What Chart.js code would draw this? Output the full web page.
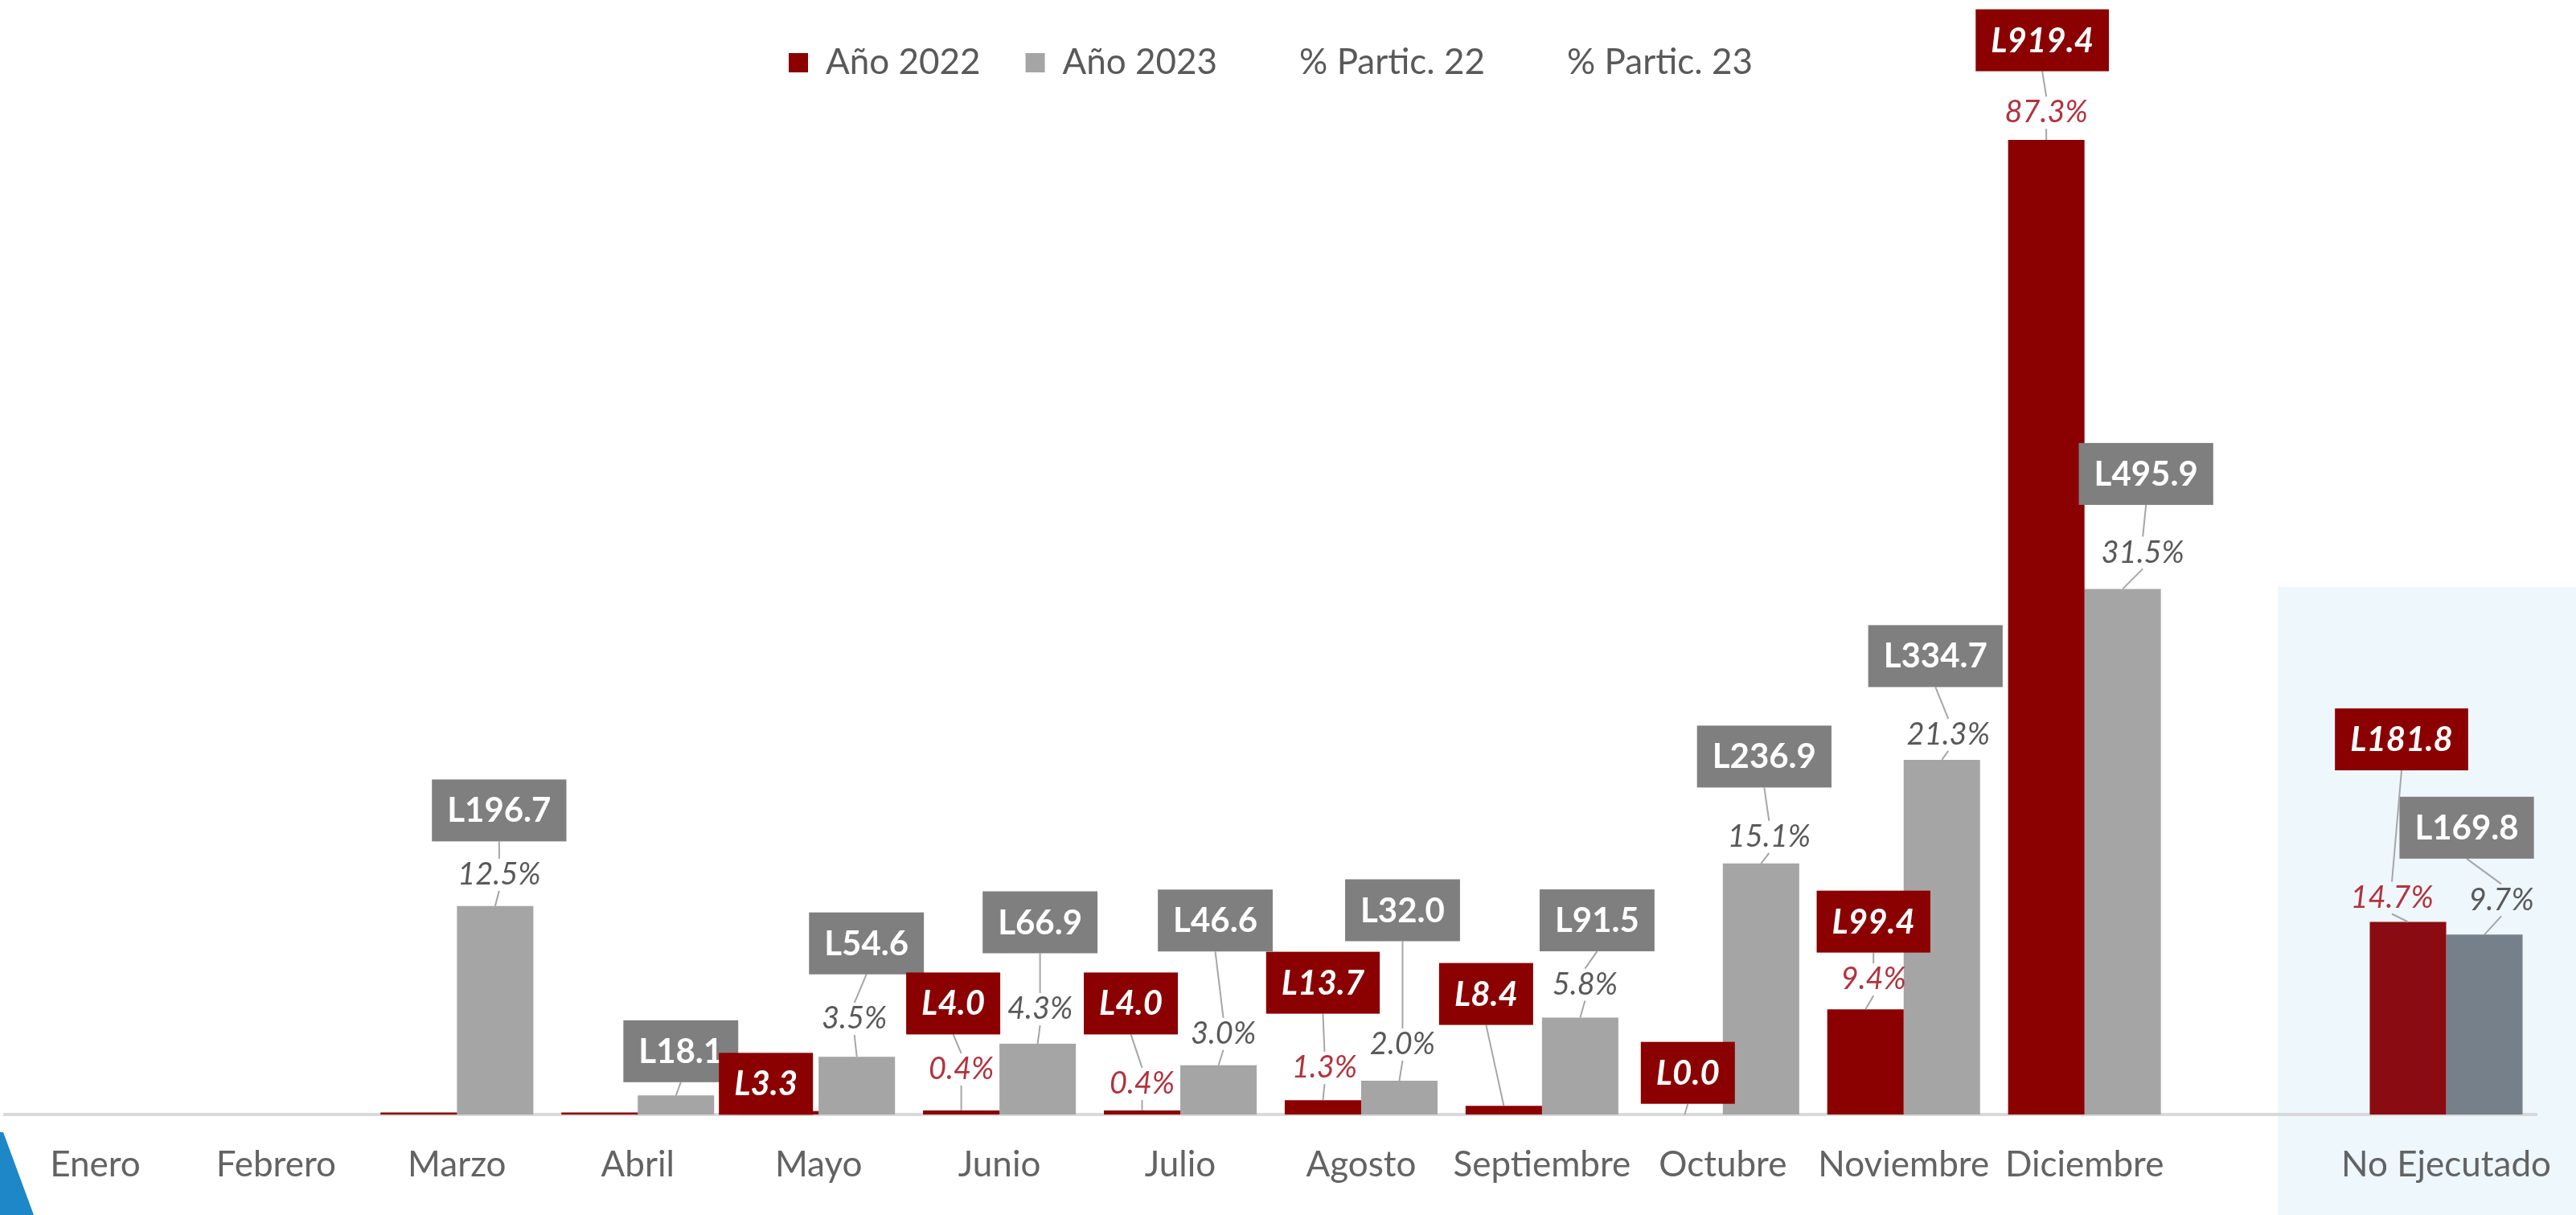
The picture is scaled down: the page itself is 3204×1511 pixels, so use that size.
<!DOCTYPE html>
<html>
<head>
<meta charset="utf-8">
<script src="https://cdn.jsdelivr.net/npm/chart.js@4.4.1/dist/chart.umd.min.js"></script>
<style>
  html, body { margin: 0; padding: 0; background: #ffffff; }
  #wrap { width: 3204px; height: 1511px; position: relative; }
</style>
</head>
<body>
<div id="wrap"><canvas id="c" width="3204" height="1511"></canvas></div>
<script>
// ---- data ----
const CATEGORIES = ['Enero','Febrero','Marzo','Abril','Mayo','Junio','Julio','Agosto','Septiembre','Octubre','Noviembre','Diciembre','','No Ejecutado'];
const VALUES_2022 = [null, null, 2.0, 2.0, 3.3, 4.0, 4.0, 13.7, 8.4, 0.0, 99.4, 919.4, null, 181.8];
const VALUES_2023 = [null, null, 196.7, 18.1, 54.6, 66.9, 46.6, 32.0, 91.5, 236.9, 334.7, 495.9, null, 169.8];
const PCT_22 = [null, null, null, null, null, 0.4, 0.4, 1.3, null, null, 9.4, 87.3, null, 14.7];
const PCT_23 = [null, null, 12.5, null, 3.5, 4.3, 3.0, 2.0, 5.8, 15.1, 21.3, 31.5, null, 9.7];
const SERIES_NAMES = ['Año 2022', 'Año 2023', '% Partic. 22', '% Partic. 23'];

// ---- label placement (offsets from the bar top, px) ----
const LABEL_LAYOUT_22 = {
  4:  { box: [-18, -34] },
  5:  { pct: [0, -51],  box: [-10, -133] },
  6:  { pct: [0, -33],  box: [-14, -133] },
  7:  { pct: [2, -40],  box: [0, -146] },
  8:  { box: [-22, -139] },
  9:  { box: [4, -52] },
  10: { pct: [10, -37], box: [10, -109] },
  11: { pct: [0, -34],  box: [-5, -124] },
  13: { pct: [-20, -30], box: [-8, -227] }
};
const LABEL_LAYOUT_23 = {
  2:  { pct: [5, -39],  box: [5, -119] },
  3:  { box: [6, -55] },
  4:  { pct: [-3, -47], box: [12, -141] },
  5:  { pct: [3, -43],  box: [3, -151] },
  6:  { pct: [6, -39],  box: [-4, -180] },
  7:  { pct: [4, -45],  box: [4, -212] },
  8:  { pct: [6, -41],  box: [21, -121] },
  9:  { pct: [10, -33], box: [4, -133] },
  10: { pct: [8, -31],  box: [-8, -129] },
  11: { pct: [25, -45], box: [29, -143] },
  13: { pct: [21, -43], box: [-22, -133] }
};

// ---- styles ----
const RED = '#8B0000', RED_NE = '#8A0C12';
const GREY = '#A5A5A5', GREY_NE = '#76808A';
const BOX_GREY = '#7F7F7F';
const FONT = 'Lato, "Open Sans", sans-serif';
const BOX_H = 77;

const panelPlugin = {
  id: 'panel',
  beforeDraw(chart) {
    const { ctx, scales } = chart;
    const x = scales.x, y = scales.y;
    const left = (x.getPixelForValue(12) + x.getPixelForValue(13)) / 2 - 97;
    const top = y.getPixelForValue(498);
    ctx.save();
    ctx.fillStyle = '#EDF7FC';
    ctx.fillRect(left, top, chart.width - left, chart.height - top);
    // corner decoration
    ctx.fillStyle = '#1D87C7';
    ctx.beginPath();
    ctx.moveTo(0, 1408); ctx.lineTo(4, 1408); ctx.lineTo(42, chart.height); ctx.lineTo(0, chart.height);
    ctx.closePath(); ctx.fill();
    ctx.restore();
  }
};

const labelPlugin = {
  id: 'boxLabels',
  afterDatasetsDraw(chart) {
    const ctx = chart.ctx;
    const specs = [
      { ds: 1, values: VALUES_2023, pct: PCT_23, layout: LABEL_LAYOUT_23, boxColor: BOX_GREY,
        boxFont: 'bold 42px ' + FONT, pctColor: '#595959', pctFont: 'italic 38px ' + FONT },
      { ds: 0, values: VALUES_2022, pct: PCT_22, layout: LABEL_LAYOUT_22, boxColor: RED,
        boxFont: 'italic bold 42px ' + FONT, pctColor: '#B3323C', pctFont: 'italic 38px ' + FONT }
    ];
    ctx.save();
    specs.forEach(s => {
      const meta = chart.getDatasetMeta(s.ds);
      Object.keys(s.layout).forEach(k => {
        const i = +k;
        const el = meta.data[i];
        if (!el) return;
        const bx0 = el.x, by0 = el.y;
        const L = s.layout[k];
        const hasPct = L.pct && s.pct[i] != null;
        const px = hasPct ? bx0 + L.pct[0] : null, py = hasPct ? by0 + L.pct[1] : null;
        const bx = bx0 + L.box[0], by = by0 + L.box[1];
        // leader lines
        ctx.strokeStyle = '#A6A6A6';
        ctx.lineWidth = 2;
        const boxBottom = by + BOX_H / 2;
        const end1 = hasPct ? py - 20 : by0;
        if (end1 - boxBottom > 4) {
          ctx.beginPath(); ctx.moveTo(bx, boxBottom); ctx.lineTo(hasPct ? px : bx0, end1); ctx.stroke();
        }
        if (hasPct && by0 - (py + 20) > 4) {
          ctx.beginPath(); ctx.moveTo(px, py + 20); ctx.lineTo(bx0, by0); ctx.stroke();
        }
        // value box
        const text = 'L' + s.values[i].toFixed(1);
        ctx.font = s.boxFont;
        const w = ctx.measureText(text).width + 38;
        ctx.fillStyle = s.boxColor;
        ctx.fillRect(bx - w / 2, by - BOX_H / 2, w, BOX_H);
        ctx.fillStyle = '#FFFFFF';
        ctx.textAlign = 'center';
        ctx.textBaseline = 'middle';
        ctx.fillText(text, bx, by + 1);
        // percentage
        if (hasPct) {
          ctx.font = s.pctFont;
          ctx.fillStyle = s.pctColor;
          ctx.fillText(s.pct[i].toFixed(1) + '%', px, py);
        }
      });
    });
    ctx.restore();
  }
};

new Chart(document.getElementById('c'), {
  type: 'bar',
  data: {
    labels: CATEGORIES,
    datasets: [
      { label: SERIES_NAMES[0], data: VALUES_2022,
        backgroundColor: VALUES_2022.map((v, i) => i === 13 ? RED_NE : RED),
        categoryPercentage: 0.845, barPercentage: 1.0, order: 1 },
      { label: SERIES_NAMES[1], data: VALUES_2023,
        backgroundColor: VALUES_2023.map((v, i) => i === 13 ? GREY_NE : GREY),
        categoryPercentage: 0.845, barPercentage: 1.0, order: 2 },
      { type: 'line', label: SERIES_NAMES[2], data: PCT_22, yAxisID: 'y2', order: 3,
        showLine: false, pointRadius: 0, borderColor: 'rgba(0,0,0,0)', backgroundColor: 'rgba(0,0,0,0)' },
      { type: 'line', label: SERIES_NAMES[3], data: PCT_23, yAxisID: 'y2', order: 4,
        showLine: false, pointRadius: 0, borderColor: 'rgba(0,0,0,0)', backgroundColor: 'rgba(0,0,0,0)' }
    ]
  },
  options: {
    responsive: false,
    animation: false,
    devicePixelRatio: 1,
    layout: { padding: { top: 0, left: 6, right: 49, bottom: 8 } },
    plugins: {
      legend: {
        position: 'top',
        labels: {
          font: { family: FONT, size: 44 },
          color: '#595959',
          boxWidth: 24, boxHeight: 24,
          padding: 56,
          sort: (a, b) => a.datasetIndex - b.datasetIndex
        }
      },
      tooltip: { enabled: false }
    },
    scales: {
      x: {
        grid: { display: false },
        border: { display: true, color: '#D9D9D9', width: 4 },
        ticks: { font: { family: FONT, size: 44 }, color: '#636363', padding: 28, maxRotation: 0, autoSkip: false }
      },
      y: { display: false, min: 0, max: 968 },
      y2: { display: false, min: 0, max: 100 }
    }
  },
  plugins: [panelPlugin, labelPlugin]
});
</script>
</body>
</html>
